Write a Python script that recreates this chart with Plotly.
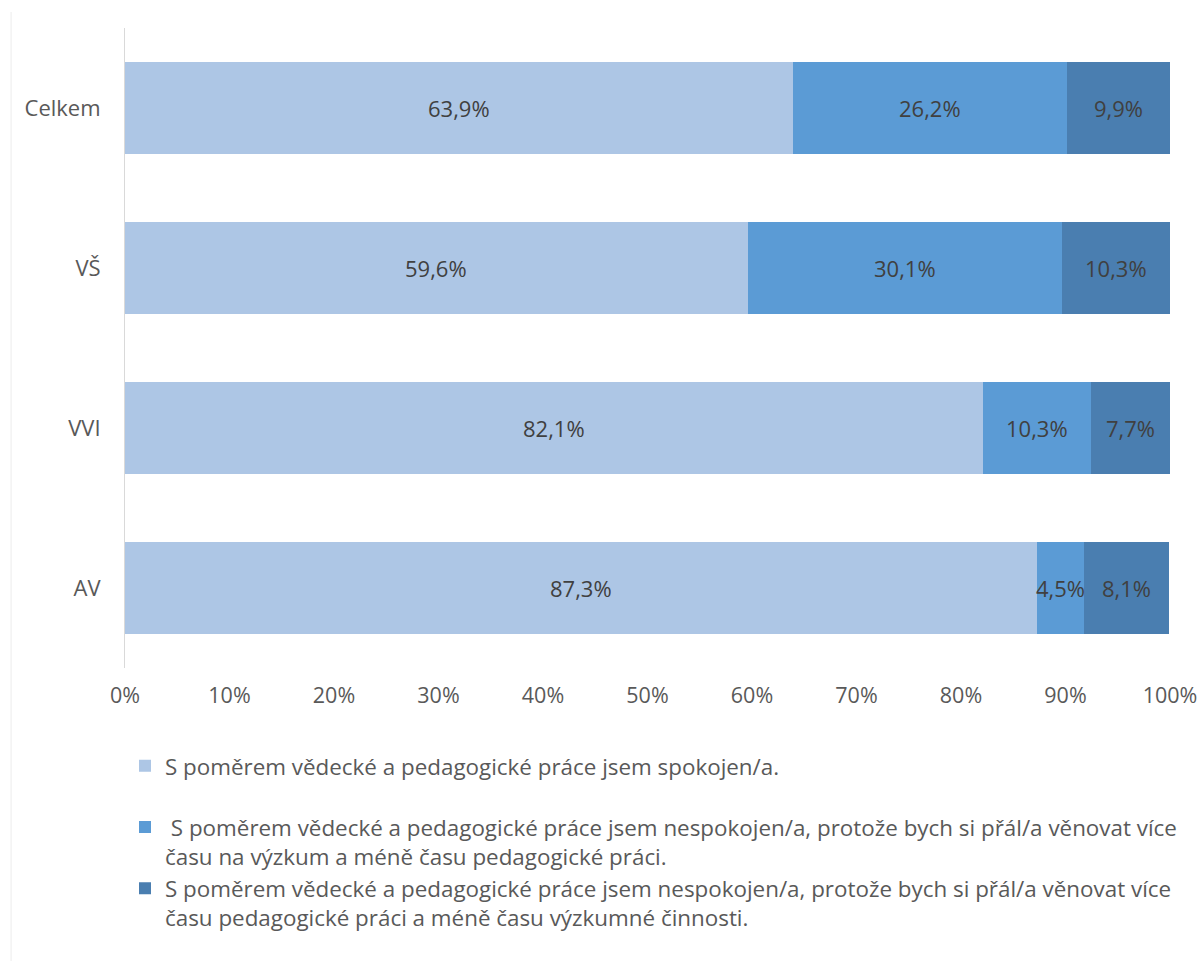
import plotly.graph_objects as go

categories = ["Celkem", "VŠ", "VVI", "AV"]
spokojen = [63.9, 59.6, 82.1, 87.3]
vice_vyzkumu = [26.2, 30.1, 10.3, 4.5]
vice_pedagogiky = [9.9, 10.3, 7.7, 8.1]

series_names = [
    "S poměrem vědecké a pedagogické práce jsem spokojen/a.<br> ",
    " S poměrem vědecké a pedagogické práce jsem nespokojen/a, protože bych si přál/a věnovat více<br>času na výzkum a méně času pedagogické práci.",
    "S poměrem vědecké a pedagogické práce jsem nespokojen/a, protože bych si přál/a věnovat více<br>času pedagogické práci a méně času výzkumné činnosti.",
]
series_values = [spokojen, vice_vyzkumu, vice_pedagogiky]
colors = ["#adc6e5", "#5b9bd5", "#4a7eb0"]

x_ticks = list(range(0, 101, 10))
x_tick_labels = [f"{t}%" for t in x_ticks]

FONT = "Open Sans"
LABEL_COLOR = "#404040"
AXIS_COLOR = "#595959"

fig = go.Figure()
for name, vals, col in zip(series_names, series_values, colors):
    fig.add_trace(go.Bar(
        y=categories,
        x=vals,
        name=name,
        orientation="h",
        marker=dict(color=col, line=dict(width=0)),
        hovertemplate="%{y}: %{x:.1f}%<extra></extra>",
    ))

# value labels centred in each stacked segment
annotations = []
for i, cat in enumerate(categories):
    start = 0.0
    for vals in series_values:
        v = vals[i]
        annotations.append(dict(
            x=start + v / 2, y=cat, xref="x", yref="y",
            text=f"{v:.1f}%".replace(".", ","),
            showarrow=False,
            font=dict(family=FONT, size=22, color=LABEL_COLOR),
        ))
        start += v

fig.update_layout(
    barmode="stack",
    bargap=0.425,
    width=1201,
    height=961,
    margin=dict(l=125, r=31, t=28, b=293, autoexpand=False),
    plot_bgcolor="white",
    paper_bgcolor="white",
    font=dict(family=FONT, color=AXIS_COLOR, size=21),
    separators=", ",
    annotations=annotations,
    xaxis=dict(
        range=[0, 100],
        tickvals=x_ticks,
        ticktext=x_tick_labels,
        showgrid=False,
        zeroline=False,
        showline=False,
        ticks="",
        ticklabelstandoff=12,
        automargin=False,
        tickfont=dict(family=FONT, size=21.5, color=AXIS_COLOR),
        fixedrange=True,
    ),
    yaxis=dict(
        categoryorder="array",
        categoryarray=categories[::-1],
        showgrid=False,
        zeroline=False,
        showline=True,
        linecolor="#d9d9d9",
        linewidth=1,
        ticks="",
        ticklabelstandoff=19,
        automargin=False,
        tickfont=dict(family=FONT, size=22, color=AXIS_COLOR),
        fixedrange=True,
    ),
    legend=dict(
        orientation="v",
        x=0.0,
        xanchor="left",
        y=-0.12,
        yanchor="top",
        valign="top",
        font=dict(family=FONT, size=22.4, color=AXIS_COLOR),
        itemwidth=30,
        tracegroupgap=0,
        traceorder="normal",
        bgcolor="rgba(0,0,0,0)",
    ),
    shapes=[
        dict(type="line", xref="paper", yref="paper",
             x0=-0.109, x1=-0.109, y0=1.025, y1=-0.458,
             line=dict(color="#ececec", width=1)),
    ],
)

fig.write_html("out.html")
